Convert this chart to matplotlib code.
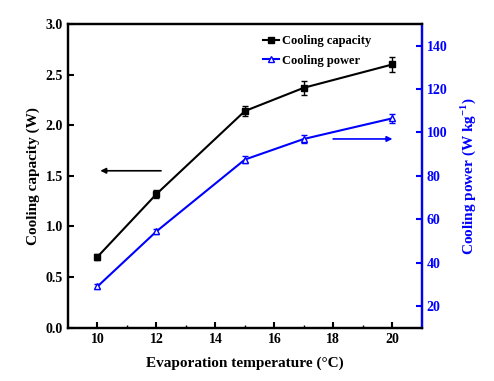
import matplotlib.pyplot as plt
from matplotlib.lines import Line2D

plt.rcParams['font.family'] = ['Liberation Serif', 'DejaVu Serif']
plt.rcParams['font.weight'] = 'bold'
plt.rcParams['mathtext.fontset'] = 'custom'
plt.rcParams['mathtext.rm'] = 'Liberation Serif:bold'
plt.rcParams['mathtext.bf'] = 'Liberation Serif:bold'

temp = [10, 12, 15, 17, 20]
capacity = [0.70, 1.32, 2.14, 2.37, 2.60]
capacity_err = [0.03, 0.04, 0.05, 0.07, 0.07]
power = [29, 54.4, 87.5, 97, 106.5]
power_err = [1.2, 1.0, 1.5, 2.0, 2.0]

fig = plt.figure(figsize=(4.94, 3.81), dpi=100)
ax = fig.add_axes([0.1377, 0.140, 0.716, 0.797])
ax2 = ax.twinx()

ax.errorbar(temp, capacity, yerr=capacity_err, color='black', marker='s', ms=5,
            lw=1.5, capsize=2.5, elinewidth=1)
ax2.errorbar(temp, power, yerr=power_err, color='blue', marker='^', ms=5,
             mfc='white', mec='blue', lw=1.5, capsize=2.5, elinewidth=1)

ax.set_xlim(9, 21)
ax.set_ylim(0, 3.0)
ax2.set_ylim(10, 150)
ax.set_xticks([10, 12, 14, 16, 18, 20])
ax.set_xticks([11, 13, 15, 17, 19], minor=True)
ax.set_yticks([0, 0.5, 1.0, 1.5, 2.0, 2.5, 3.0])
ax.set_yticklabels(['0.0', '0.5', '1.0', '1.5', '2.0', '2.5', '3.0'])
ax2.set_yticks([20, 40, 60, 80, 100, 120, 140])

ax.tick_params(axis='both', direction='in', labelsize=10, width=1.5, length=4)
ax.tick_params(axis='x', which='minor', direction='in', length=2, width=1)
ax2.tick_params(axis='y', direction='in', labelsize=10, width=1.5, length=4,
                colors='blue')

for s in ax.spines.values():
    s.set_linewidth(1.6)
for s in ax2.spines.values():
    s.set_linewidth(1.6)
ax2.spines['right'].set_color('blue')

ax.set_xlabel('Evaporation temperature (\u00b0C)', fontsize=11, fontweight='bold', labelpad=8)
ax.set_ylabel('Cooling capacity (W)', fontsize=11, fontweight='bold')
ax2.set_ylabel('Cooling power (W kg$^{-1}$)', fontsize=11, fontweight='bold',
               color='blue', labelpad=8)

ax.annotate('', xy=(10.0, 1.55), xytext=(12.25, 1.55),
            arrowprops=dict(arrowstyle='-|>', color='black', lw=1.2, mutation_scale=8))
ax2.annotate('', xy=(20.1, 97), xytext=(17.9, 97),
             arrowprops=dict(arrowstyle='-|>', color='blue', lw=1.2, mutation_scale=8))

h1 = Line2D([], [], color='black', marker='s', ms=5, lw=1.5)
h2 = Line2D([], [], color='blue', marker='^', ms=5, mfc='white', lw=1.5)
ax.legend([h1, h2], ['Cooling capacity', 'Cooling power'], loc='upper left',
          bbox_to_anchor=(0.52, 1.0), frameon=False, fontsize=9,
          handlelength=1.3, handletextpad=0.2, labelspacing=0.6)

fig.savefig('out.png', dpi=100)
